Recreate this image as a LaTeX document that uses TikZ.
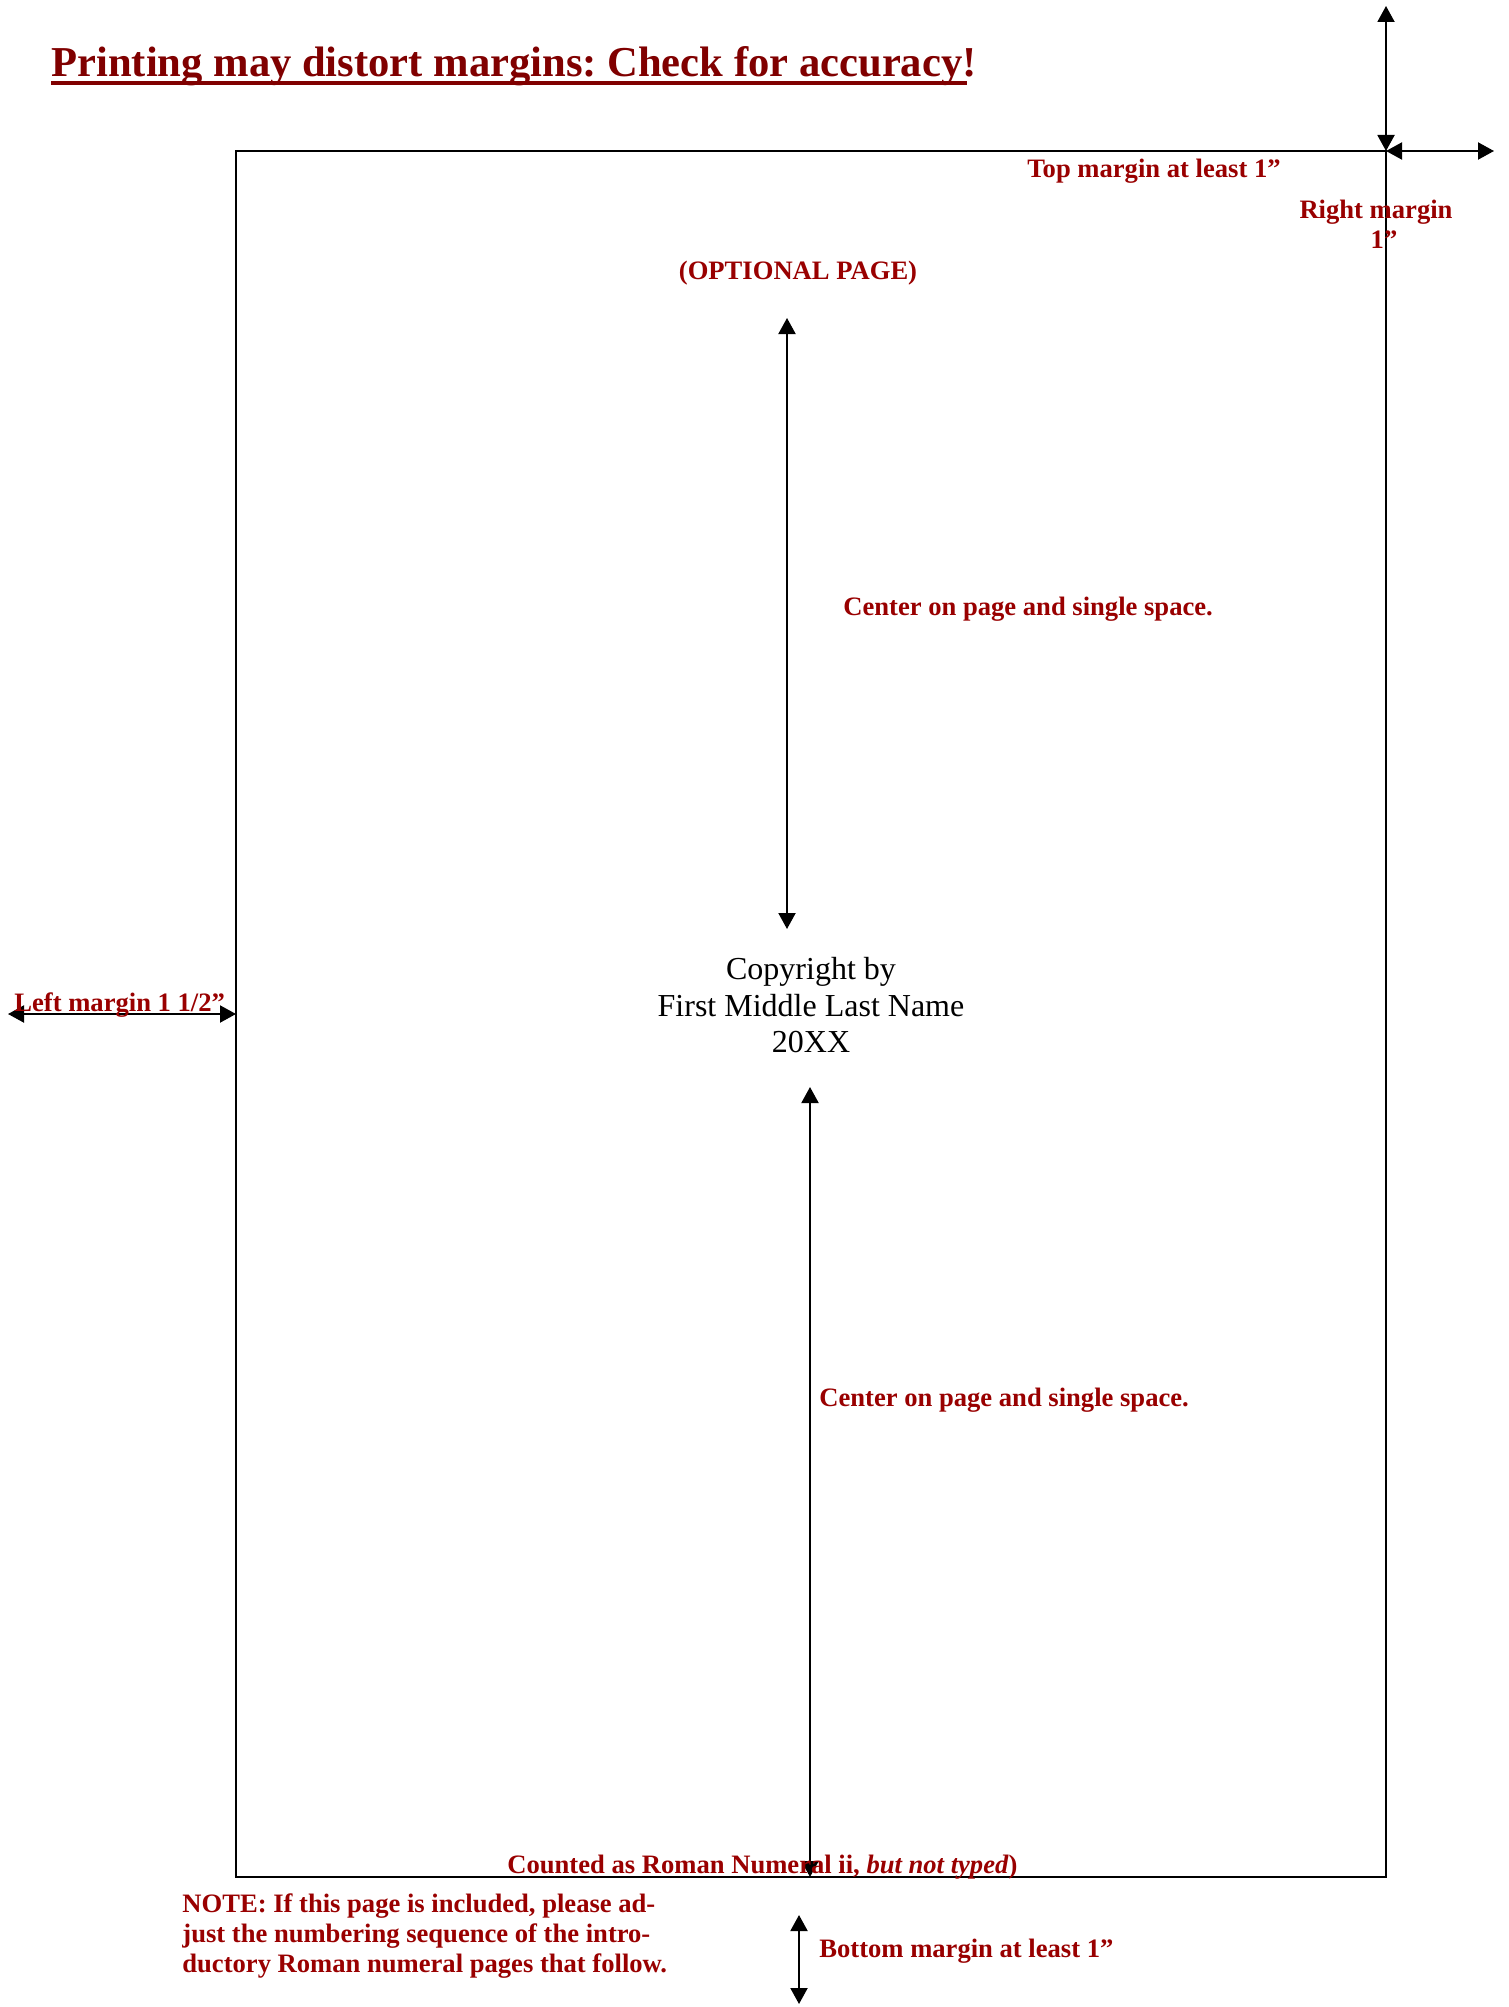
\documentclass[tikz,border=0pt]{standalone}
\usepackage{fontspec}
\setmainfont{Liberation Serif}
\usetikzlibrary{arrows.meta}
\definecolor{titlered}{RGB}{128,0,0}
\definecolor{labelred}{RGB}{153,0,0}
\frenchspacing
\begin{document}
\begin{tikzpicture}[x=0.5pt,y=-0.5pt,
  lbl/.style={text=labelred,font=\fontsize{13.3}{16}\selectfont\bfseries,inner sep=0pt,anchor=base west},
  cpy/.style={font=\fontsize{16}{19}\selectfont,inner sep=0pt,anchor=base},
  dim/.style={line width=1pt,{Triangle[length=8pt,width=8.5pt]}-{Triangle[length=8pt,width=8.5pt]}},
  frame/.style={line width=1pt}]
\useasboundingbox[fill=white] (0,0) rectangle (1509,2007);

% title
\node[anchor=base west,inner sep=0pt,text=titlered,font=\fontsize{21.3}{25}\selectfont\bfseries] (title) at (51,77) {Printing may distort margins: Check for accuracy!};
\draw[titlered,line width=2pt] ([yshift=-3pt]title.base west) -- ++(916,0);

% page frame
\coordinate (tl) at (236,151);
\coordinate (tr) at (1386,151);
\coordinate (br) at (1386,1877);
\draw[frame] (tl) rectangle (br);

% top / right margin arrows
\coordinate (topend) at (1386,6);
\coordinate (rightend) at (1494,151);
\draw[dim] (topend) -- (tr);
\draw[dim] (tr) -- (rightend);
\node[lbl] (topl) at (1027,177) {Top margin at least 1”};
\node[lbl,anchor=base] (right1) at (1376,218) {Right margin};
\node[lbl,anchor=base] (right2) at (1384,248) {1”};

% optional page
\node[lbl,anchor=base] (opt) at (798,279) {(OPTIONAL PAGE)};
\coordinate (a1t) at (787,318);
\coordinate (a1b) at (787,929);
\draw[dim] (a1t) -- (a1b);
\node[lbl] (c1) at (843,615) {Center on page and single space.};

% copyright block
\node[cpy] (cp1) at (811,979) {Copyright by};
\node[cpy] (cp2) at (811,1016) {First Middle Last Name};
\node[cpy] (cp3) at (811,1052) {20XX};

% left margin
\coordinate (lm1) at (8,1014);
\coordinate (lm2) at (236,1014);
\draw[dim] (lm1) -- (lm2);
\node[lbl] (leftl) at (14,1011) {Left margin 1 1/2”};

% lower arrow
\coordinate (a2t) at (810,1087);
\coordinate (a2b) at (810,1877);
\draw[dim] (a2t) -- (a2b);
\node[lbl] (c2) at (819,1406) {Center on page and single space.};

\node[lbl] (cnt) at (507,1873) {Counted as Roman Numeral ii, \textit{but not typed})};

% note
\node[lbl] (n1) at (182,1912) {NOTE: If this page is included, please ad-};
\node[lbl] (n2) at (182,1942) {just the numbering sequence of the intro-};
\node[lbl] (n3) at (182,1972) {ductory Roman numeral pages that follow.};

% bottom margin
\coordinate (bt) at (799,1915);
\coordinate (bb) at (799,2004);
\draw[dim] (bt) -- (bb);
\node[lbl] (bot) at (819,1957) {Bottom margin at least 1”};
\end{tikzpicture}
\end{document}
